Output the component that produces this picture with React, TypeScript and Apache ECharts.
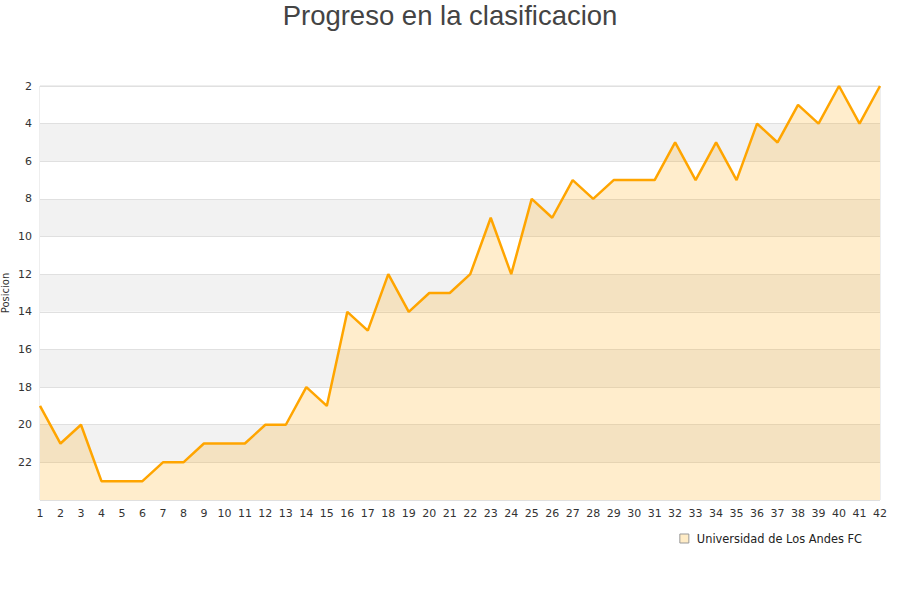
import * as echarts from "echarts";
import { useEffect, useRef } from "react";

const rounds = Array.from({ length: 42 }, (_, i) => String(i + 1));
const positions = [
  19, 21, 20, 23, 23, 23, 22, 22, 21, 21, 21, 20, 20, 18, 19, 14, 15, 12, 14,
  13, 13, 12, 9, 12, 8, 9, 7, 8, 7, 7, 7, 5, 7, 5, 7, 4, 5, 3, 4, 2, 4, 2,
];
const teamName = "Universidad de Los Andes FC";

export default function App() {
  const ref = useRef<HTMLDivElement>(null);

  useEffect(() => {
    document.body.style.margin = "0";
    if (!ref.current) return;
    const chart = echarts.init(ref.current, undefined, { renderer: "svg" });
    chart.setOption({
      animation: false,
      backgroundColor: "#fff",
      textStyle: { fontFamily: "DejaVu Sans" },
      title: {
        text: "Progreso en la clasificacion",
        left: "center",
        top: -4,
        textStyle: {
          fontFamily: "Liberation Sans",
          fontSize: 27.5,
          fontWeight: "normal",
          color: "#444",
        },
      },
      grid: {
        left: 40,
        right: 20,
        top: 86,
        bottom: 100,
        outerBoundsMode: "none",
        containLabel: false,
        show: true,
        borderColor: "#ddd",
        borderWidth: 1,
        backgroundColor: "transparent",
      },
      legend: {
        right: 33,
        top: 528,
        itemWidth: 9,
        itemHeight: 9,
        itemGap: 10,
        icon: "rect",
        textStyle: { fontSize: 11.4, color: "#222", padding: [0, 0, 0, 3] },
        data: [
          {
            name: teamName,
            itemStyle: {
              color: "#ffecc6",
              borderColor: "#999",
              borderWidth: 1,
            },
          },
        ],
      },
      xAxis: {
        type: "category",
        data: rounds,
        boundaryGap: false,
        axisLine: { show: false },
        axisTick: { show: false },
        axisLabel: { color: "#333", fontSize: 11, margin: 8, interval: 0 },
        splitLine: { show: false },
      },
      yAxis: {
        type: "value",
        inverse: true,
        min: 2,
        max: 24,
        interval: 2,
        name: "Posicion",
        nameLocation: "middle",
        nameGap: 30,
        nameMoveOverlap: false,
        nameTextStyle: { fontSize: 10, color: "#333" },
        axisLine: { show: false },
        axisTick: { show: false },
        axisLabel: {
          color: "#333",
          fontSize: 11,
          showMaxLabel: false,
          margin: 8,
        },
        splitLine: { lineStyle: { color: "#e0e0e0" } },
        splitArea: {
          show: true,
          areaStyle: { color: ["#ffffff", "#f2f2f2"] },
        },
      },
      series: [
        {
          name: teamName,
          type: "line",
          data: positions,
          showSymbol: false,
          symbol: "none",
          lineStyle: { color: "#ffa500", width: 2.5 },
          itemStyle: { color: "#ffa500" },
          areaStyle: {
            color: "rgba(255,165,0,0.2)",
            opacity: 1,
            origin: "end",
          },
        },
      ],
    });
    return () => chart.dispose();
  }, []);

  return <div ref={ref} style={{ width: 900, height: 600 }} />;
}
